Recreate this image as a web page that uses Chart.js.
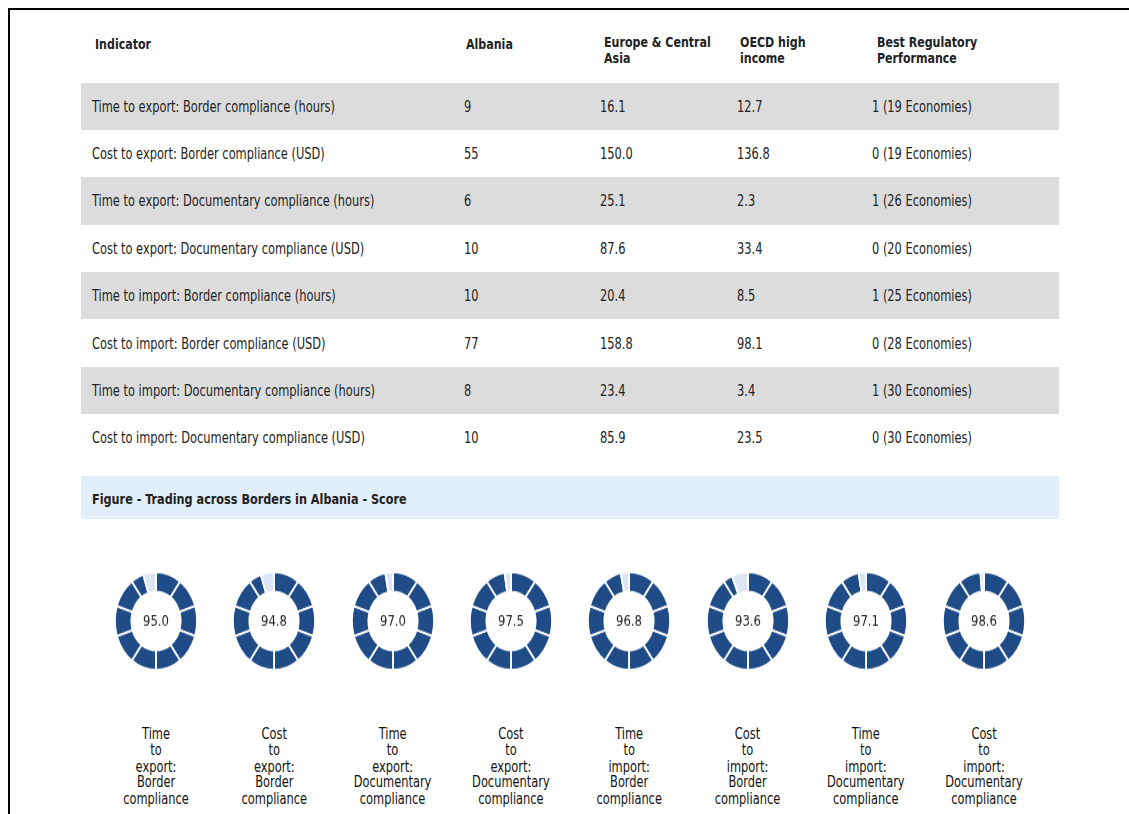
<!DOCTYPE html>
<html>
<head>
<meta charset="utf-8">
<script src="https://cdn.jsdelivr.net/npm/chart.js@4/dist/chart.umd.min.js"></script>
<style>
  html, body { margin: 0; padding: 0; background: #fff; }
  body { width: 1129px; height: 814px; position: relative; overflow: hidden;
         font-family: "DejaVu Sans Condensed", "DejaVu Sans", sans-serif; color: #222; }
  .frame { position: absolute; left: 8px; top: 8px; right: -10px; bottom: -10px;
           border-top: 2px solid #000; border-left: 2px solid #000; }
  .cell { position: absolute; font-size: 12.7px; line-height: 15px; white-space: nowrap;
          transform-origin: 0 50%; transform: scaleY(1.18); }
  .head { font-weight: bold; font-size: 12.3px; line-height: 13px; }
  .band { position: absolute; left: 81px; width: 978px; }
  .donut { position: absolute; width: 86px; height: 86px; transform-origin: 50% 50%; transform: scaleY(1.19); }
  .label { position: absolute; width: 110px; text-align: center; font-size: 12.7px; line-height: 13.8px; color: #111;
           transform-origin: 50% 0; transform: scaleY(1.18); }
</style>
</head>
<body>
<div class="frame"></div>
<div id="root"></div>
<script>
// table data
const headers = ["Indicator", "Albania", "Europe & Central<br>Asia", "OECD high<br>income", "Best Regulatory<br>Performance"];
const indicators = [
  "Time to export: Border compliance (hours)",
  "Cost to export: Border compliance (USD)",
  "Time to export: Documentary compliance (hours)",
  "Cost to export: Documentary compliance (USD)",
  "Time to import: Border compliance (hours)",
  "Cost to import: Border compliance (USD)",
  "Time to import: Documentary compliance (hours)",
  "Cost to import: Documentary compliance (USD)"
];
const albania = ["9", "55", "6", "10", "10", "77", "8", "10"];
const europeCentralAsia = ["16.1", "150.0", "25.1", "87.6", "20.4", "158.8", "23.4", "85.9"];
const oecdHighIncome = ["12.7", "136.8", "2.3", "33.4", "8.5", "98.1", "3.4", "23.5"];
const bestPerformance = ["1 (19 Economies)", "0 (19 Economies)", "1 (26 Economies)", "0 (20 Economies)",
                         "1 (25 Economies)", "0 (28 Economies)", "1 (30 Economies)", "0 (30 Economies)"];

// figure data
const figureTitle = "Figure - Trading across Borders in Albania - Score";
const categories = [
  "Time<br>to<br>export:<br>Border<br>compliance",
  "Cost<br>to<br>export:<br>Border<br>compliance",
  "Time<br>to<br>export:<br>Documentary<br>compliance",
  "Cost<br>to<br>export:<br>Documentary<br>compliance",
  "Time<br>to<br>import:<br>Border<br>compliance",
  "Cost<br>to<br>import:<br>Border<br>compliance",
  "Time<br>to<br>import:<br>Documentary<br>compliance",
  "Cost<br>to<br>import:<br>Documentary<br>compliance"
];
const scores = [95.0, 94.8, 97.0, 97.5, 96.8, 93.6, 97.1, 98.6];

const root = document.getElementById("root");
const add = (cls, style, html) => {
  const d = document.createElement("div");
  d.className = cls;
  Object.assign(d.style, style);
  if (html !== undefined) d.innerHTML = html;
  root.appendChild(d);
  return d;
};

// header row
const colX = [95, 466, 604, 740, 877];
headers.forEach((h, i) => add("cell head", { left: colX[i] + "px", top: "38px" }, h));

// body rows
const rowTop = 82.5, rowH = 47.4;
const rowX = [92, 464, 600, 737, 872];
indicators.forEach((name, r) => {
  const top = rowTop + r * rowH;
  if (r % 2 == 0) add("band", { top: top + "px", height: rowH + "px", background: "#dcdcdc" });
  const vals = [name, albania[r], europeCentralAsia[r], oecdHighIncome[r], bestPerformance[r]];
  vals.forEach((v, c) => add("cell", { left: rowX[c] + "px", top: (top + 16) + "px" }, v));
});

// figure title band
add("band", { top: "476px", height: "43px", background: "#e2eef9" });
add("cell head", { left: "92px", top: "491px", fontSize: "12.5px", lineHeight: "15px" }, figureTitle);

// doughnuts
const centerText = {
  id: "centerText",
  afterDraw: (chart) => {
    const ctx = chart.ctx;
    const { left, right, top, bottom } = chart.chartArea;
    ctx.save();
    ctx.fillStyle = "#222";
    ctx.font = '13px "DejaVu Sans Condensed", "DejaVu Sans", sans-serif';
    ctx.textAlign = "center";
    ctx.textBaseline = "middle";
    ctx.fillText(chart.options.plugins.centerText.text, (left + right) / 2, (top + bottom) / 2 + 1);
    ctx.restore();
  },
};

const spacing = 118.3;
scores.forEach((score, i) => {
  const cx = 156 + i * spacing;
  const box = add("donut", { left: (cx - 43) + "px", top: (621 - 43) + "px" });
  const canvas = document.createElement("canvas");
  canvas.width = 86; canvas.height = 86;
  box.appendChild(canvas);
  const filled = [10, 10, 10, 10, 10, 10, 10, 10, 10, score - 90];
  const colors = filled.map(() => "#1f4b87");
  new Chart(canvas, {
    type: "doughnut",
    data: {
      datasets: [{
        data: [...filled, 100 - score],
        backgroundColor: [...colors, "#dce5f3"],
        borderColor: "#ffffff",
        borderWidth: 1.8,
      }],
    },
    options: {
      responsive: false,
      animation: false,
      cutout: "60%",
      layout: { padding: 1 },
      events: [],
      plugins: {
        legend: { display: false },
        tooltip: { enabled: false },
        centerText: { text: score.toFixed(1) },
      },
    },
    plugins: [centerText],
  });
  add("label", { left: (cx - 55) + "px", top: "726px" }, categories[i]);
});
</script>
</body>
</html>
